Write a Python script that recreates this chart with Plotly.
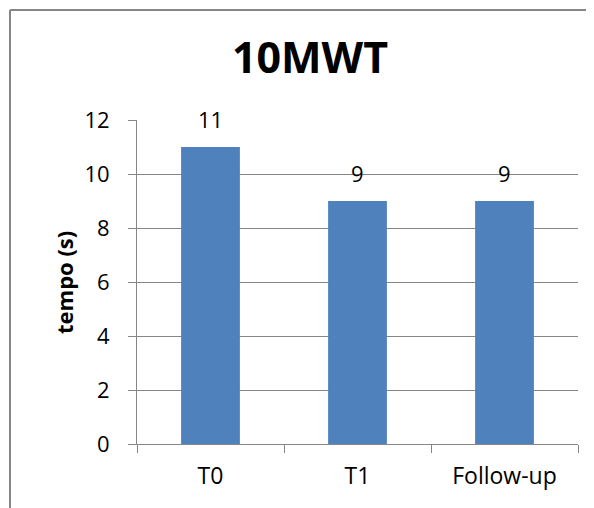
import plotly.graph_objects as go

categories = ["T0", "T1", "Follow-up"]
values = [11, 9, 9]
labels = ["11", "9", "9"]
title_text = "10MWT"
y_title = "tempo (s)"

GRAY = "#868686"
FONT = "Open Sans"

# figure geometry (the page body adds an 8px offset, so the figure is 8px smaller)
W, H = 586, 500
L, R, T, B = 129, 16, 112, 64
PW, PH = W - L - R, H - T - B

fig = go.Figure()
fig.add_trace(go.Bar(
    x=categories, y=values, width=0.4,
    marker=dict(color="#4F81BD", line=dict(width=0)),
    hoverinfo="skip",
))

for c, v, t in zip(categories, values, labels):
    fig.add_annotation(x=c, y=v, text=t, showarrow=False, yanchor="middle",
                       yshift=28, font=dict(family=FONT, size=22, color="black"))

# y-axis title as rotated annotation
fig.add_annotation(xref="paper", yref="paper", x=(56 - L) / PW, y=(H - B - (283 - 8)) / PH,
                   text="<b>" + y_title + "</b>", textangle=-90, showarrow=False,
                   xanchor="center", yanchor="middle",
                   font=dict(family=FONT, size=22, color="black"))

# chart border: only the left and top edges fall inside the picture
bx = (2 - L) / PW
by = (H - B - 2) / PH
fig.add_shape(type="line", xref="paper", yref="paper", x0=bx, x1=bx, y0=-1.0, y1=by,
              line=dict(color=GRAY, width=2), layer="below")
fig.add_shape(type="line", xref="paper", yref="paper", x0=bx, x1=2.0, y0=by, y1=by,
              line=dict(color=GRAY, width=2), layer="below")

fig.update_layout(
    width=W, height=H,
    margin=dict(l=L, r=R, t=T, b=B),
    paper_bgcolor="white", plot_bgcolor="white",
    showlegend=False,
    title=dict(text="<b>" + title_text + "</b>", x=302 / W, xanchor="center",
               y=1 - 50 / H, yanchor="middle",
               font=dict(family=FONT, size=43, color="black")),
    font=dict(family=FONT, color="black"),
)
fig.update_yaxes(range=[0, 12], dtick=2, showgrid=True, gridcolor=GRAY, gridwidth=1,
                 showline=True, linecolor=GRAY, linewidth=1, zeroline=False,
                 ticks="outside", ticklen=8, tickcolor=GRAY,
                 ticklabelstandoff=14,
                 tickfont=dict(family=FONT, size=22, color="black"))
fig.update_xaxes(range=[-0.5, 2.5], showline=True, linecolor=GRAY, linewidth=1,
                 ticks="outside", ticklen=8, tickcolor=GRAY, tickson="boundaries",
                 ticklabelstandoff=11,
                 tickfont=dict(family=FONT, size=23, color="black"), showgrid=False)

fig.write_html("out.html")
